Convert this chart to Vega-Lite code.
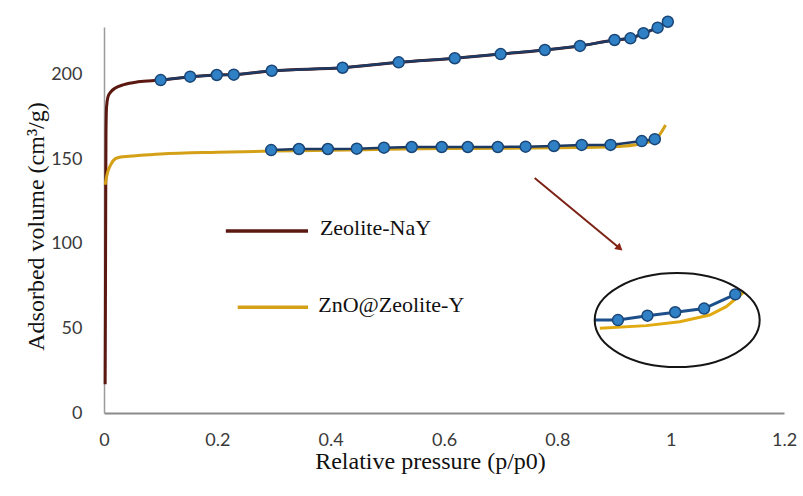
{
  "$schema": "https://vega.github.io/schema/vega-lite/v6.json",
  "width": 680,
  "height": 386,
  "autosize": {"type": "none"},
  "padding": {"left": 104, "top": 27, "right": 19, "bottom": 83},
  "background": "white",
  "config": {"view": {"stroke": null}, "axis": {"grid": false, "ticks": false}},
  "datasets": {
    "curves": [
      {"series": "Zeolite-NaY", "p": 0.002, "v": 17},
      {"series": "Zeolite-NaY", "p": 0.0025, "v": 60},
      {"series": "Zeolite-NaY", "p": 0.003, "v": 120},
      {"series": "Zeolite-NaY", "p": 0.0035, "v": 165},
      {"series": "Zeolite-NaY", "p": 0.0045, "v": 181},
      {"series": "Zeolite-NaY", "p": 0.007, "v": 187},
      {"series": "Zeolite-NaY", "p": 0.012, "v": 190},
      {"series": "Zeolite-NaY", "p": 0.02, "v": 192.3},
      {"series": "Zeolite-NaY", "p": 0.035, "v": 194.3},
      {"series": "Zeolite-NaY", "p": 0.06, "v": 196},
      {"series": "Zeolite-NaY", "p": 0.1, "v": 197},
      {"series": "Zeolite-NaY", "p": 0.152, "v": 199},
      {"series": "Zeolite-NaY", "p": 0.199, "v": 200},
      {"series": "Zeolite-NaY", "p": 0.229, "v": 200.2},
      {"series": "Zeolite-NaY", "p": 0.296, "v": 202.5},
      {"series": "Zeolite-NaY", "p": 0.421, "v": 204.3},
      {"series": "Zeolite-NaY", "p": 0.52, "v": 207.5},
      {"series": "Zeolite-NaY", "p": 0.619, "v": 209.9},
      {"series": "Zeolite-NaY", "p": 0.7, "v": 212.4},
      {"series": "Zeolite-NaY", "p": 0.778, "v": 214.8},
      {"series": "Zeolite-NaY", "p": 0.84, "v": 217.2},
      {"series": "Zeolite-NaY", "p": 0.901, "v": 220.7},
      {"series": "Zeolite-NaY", "p": 0.929, "v": 221.7},
      {"series": "Zeolite-NaY", "p": 0.952, "v": 224.7},
      {"series": "Zeolite-NaY", "p": 0.977, "v": 228.0},
      {"series": "Zeolite-NaY", "p": 0.995, "v": 231.5},
      {"series": "ZnO@Zeolite-Y", "p": 0.002, "v": 135},
      {"series": "ZnO@Zeolite-Y", "p": 0.006, "v": 142},
      {"series": "ZnO@Zeolite-Y", "p": 0.012, "v": 147},
      {"series": "ZnO@Zeolite-Y", "p": 0.02, "v": 150.5},
      {"series": "ZnO@Zeolite-Y", "p": 0.03, "v": 151.5},
      {"series": "ZnO@Zeolite-Y", "p": 0.06, "v": 152.3},
      {"series": "ZnO@Zeolite-Y", "p": 0.1, "v": 153.2},
      {"series": "ZnO@Zeolite-Y", "p": 0.2, "v": 154.3},
      {"series": "ZnO@Zeolite-Y", "p": 0.295, "v": 155},
      {"series": "ZnO@Zeolite-Y", "p": 0.4, "v": 155.4},
      {"series": "ZnO@Zeolite-Y", "p": 0.5, "v": 156},
      {"series": "ZnO@Zeolite-Y", "p": 0.6, "v": 156.5},
      {"series": "ZnO@Zeolite-Y", "p": 0.7, "v": 156.6},
      {"series": "ZnO@Zeolite-Y", "p": 0.8, "v": 157},
      {"series": "ZnO@Zeolite-Y", "p": 0.9, "v": 157.6},
      {"series": "ZnO@Zeolite-Y", "p": 0.95, "v": 159.5},
      {"series": "ZnO@Zeolite-Y", "p": 0.972, "v": 161.5},
      {"series": "ZnO@Zeolite-Y", "p": 0.991, "v": 170.4}
    ],
    "markers": [
      {"series": "Zeolite-NaY", "p": 0.1, "v": 197},
      {"series": "Zeolite-NaY", "p": 0.152, "v": 199},
      {"series": "Zeolite-NaY", "p": 0.199, "v": 200},
      {"series": "Zeolite-NaY", "p": 0.229, "v": 200.2},
      {"series": "Zeolite-NaY", "p": 0.296, "v": 202.5},
      {"series": "Zeolite-NaY", "p": 0.421, "v": 204.3},
      {"series": "Zeolite-NaY", "p": 0.52, "v": 207.5},
      {"series": "Zeolite-NaY", "p": 0.619, "v": 209.9},
      {"series": "Zeolite-NaY", "p": 0.7, "v": 212.4},
      {"series": "Zeolite-NaY", "p": 0.778, "v": 214.8},
      {"series": "Zeolite-NaY", "p": 0.84, "v": 217.2},
      {"series": "Zeolite-NaY", "p": 0.901, "v": 220.7},
      {"series": "Zeolite-NaY", "p": 0.929, "v": 221.7},
      {"series": "Zeolite-NaY", "p": 0.952, "v": 224.7},
      {"series": "Zeolite-NaY", "p": 0.977, "v": 228.0},
      {"series": "Zeolite-NaY", "p": 0.995, "v": 231.5},
      {"series": "ZnO@Zeolite-Y", "p": 0.295, "v": 155.6},
      {"series": "ZnO@Zeolite-Y", "p": 0.344, "v": 156.2},
      {"series": "ZnO@Zeolite-Y", "p": 0.395, "v": 156.2},
      {"series": "ZnO@Zeolite-Y", "p": 0.446, "v": 156.4},
      {"series": "ZnO@Zeolite-Y", "p": 0.494, "v": 157},
      {"series": "ZnO@Zeolite-Y", "p": 0.543, "v": 157.4},
      {"series": "ZnO@Zeolite-Y", "p": 0.596, "v": 157.4},
      {"series": "ZnO@Zeolite-Y", "p": 0.642, "v": 157.4},
      {"series": "ZnO@Zeolite-Y", "p": 0.695, "v": 157.4},
      {"series": "ZnO@Zeolite-Y", "p": 0.744, "v": 157.6},
      {"series": "ZnO@Zeolite-Y", "p": 0.794, "v": 158},
      {"series": "ZnO@Zeolite-Y", "p": 0.843, "v": 158.6},
      {"series": "ZnO@Zeolite-Y", "p": 0.894, "v": 158.6},
      {"series": "ZnO@Zeolite-Y", "p": 0.949, "v": 160.9},
      {"series": "ZnO@Zeolite-Y", "p": 0.972, "v": 162}
    ],
    "inset": [
      {"series": "gold", "p": 0.875, "v": 50.1},
      {"series": "gold", "p": 0.957, "v": 51.7},
      {"series": "gold", "p": 1.016, "v": 54.0},
      {"series": "gold", "p": 1.069, "v": 58.0},
      {"series": "gold", "p": 1.098, "v": 62.9},
      {"series": "gold", "p": 1.13, "v": 71.8},
      {"series": "blue", "p": 0.866, "v": 55.0},
      {"series": "blue", "p": 0.907, "v": 55.0},
      {"series": "blue", "p": 0.959, "v": 57.6},
      {"series": "blue", "p": 1.008, "v": 59.6},
      {"series": "blue", "p": 1.059, "v": 61.8},
      {"series": "blue", "p": 1.114, "v": 70.2}
    ],
    "insetMarkers": [
      {"p": 0.907, "v": 55.0},
      {"p": 0.959, "v": 57.6},
      {"p": 1.008, "v": 59.6},
      {"p": 1.059, "v": 61.8},
      {"p": 1.114, "v": 70.2}
    ],
    "ellipse": [{"p": 1.0115, "v": 55.0}],
    "arrow": [{"p": 0.76, "v": 139, "p2": 0.91, "v2": 97.5}],
    "arrowHead": [{"p": 0.91, "v": 97.5}],
    "legend": [
      {"series": "Zeolite-NaY", "p": 0.215, "p2": 0.36, "v": 107.7, "tp": 0.381, "tv": 105.3},
      {"series": "ZnO@Zeolite-Y", "p": 0.236, "p2": 0.36, "v": 62.5, "tp": 0.378, "tv": 59.9}
    ]
  },
  "encoding": {
    "x": {
      "field": "p",
      "type": "quantitative",
      "scale": {"domain": [0, 1.2], "nice": false, "zero": false},
      "axis": {
        "values": [0, 0.2, 0.4, 0.6, 0.8, 1, 1.2],
        "format": "~g",
        "labelFont": "Lato",
        "labelFontSize": 18,
        "labelColor": "#3a3a3a",
        "labelPadding": 18,
        "labelFlush": false,
        "labelBound": false,
        "labelOverlap": false,
        "domainColor": "#8a8a8a",
        "domainWidth": 2,
        "title": "Relative pressure (p/p0)",
        "titleFont": "Liberation Serif",
        "titleFontSize": 24,
        "titleFontWeight": "normal",
        "titleColor": "#111111",
        "titleX": 326,
        "titleY": 55,
        "titleBaseline": "alphabetic",
        "titleAlign": "center"
      }
    },
    "y": {
      "field": "v",
      "type": "quantitative",
      "scale": {"domain": [0, 228.4], "nice": false, "zero": false},
      "axis": {
        "values": [0, 50, 100, 150, 200],
        "labelFont": "Lato",
        "labelFontSize": 18,
        "labelColor": "#3a3a3a",
        "labelPadding": 22,
        "labelOverlap": false,
        "domainColor": "#9a9a9a",
        "domainWidth": 1.5,
        "title": "Adsorbed volume (cm³/g)",
        "titleFont": "Liberation Serif",
        "titleFontSize": 24,
        "titleFontWeight": "normal",
        "titleColor": "#111111",
        "titleX": -61,
        "titleY": 199,
        "titleAngle": -90,
        "titleBaseline": "alphabetic",
        "titleAlign": "center"
      }
    }
  },
  "layer": [
    {
      "data": {"name": "curves"},
      "mark": {"type": "line", "strokeWidth": 3, "interpolate": "monotone"},
      "encoding": {
        "color": {"field": "series", "type": "nominal", "scale": {"domain": ["Zeolite-NaY", "ZnO@Zeolite-Y"], "range": ["#5a1810", "#d4a017"]}, "legend": null},
        "order": {"field": "p", "type": "quantitative"}
      }
    },
    {
      "data": {"name": "markers"},
      "mark": {"type": "line", "strokeWidth": 2.5, "color": "#1d3a64"},
      "encoding": {
        "detail": {"field": "series", "type": "nominal"},
        "order": {"field": "p", "type": "quantitative"}
      }
    },
    {
      "data": {"name": "markers"},
      "mark": {"type": "point", "shape": "circle", "size": 120, "filled": true, "fill": "#2f80c4", "stroke": "#1a4677", "strokeWidth": 1.5, "opacity": 1}
    },
    {
      "data": {"name": "inset"},
      "mark": {"type": "line", "strokeWidth": 3},
      "encoding": {
        "stroke": {"field": "series", "type": "nominal", "scale": {"domain": ["gold", "blue"], "range": ["#e0aa10", "#1d4f8a"]}, "legend": null},
        "order": {"field": "p", "type": "quantitative"}
      }
    },
    {
      "data": {"name": "insetMarkers"},
      "mark": {"type": "point", "shape": "circle", "size": 120, "filled": true, "fill": "#2f80c4", "stroke": "#1a4677", "strokeWidth": 1.5, "opacity": 1}
    },
    {
      "data": {"name": "ellipse"},
      "mark": {"type": "point", "shape": "M-1,0 C-1,-0.3148 -0.5523,-0.57 0,-0.57 C0.5523,-0.57 1,-0.3148 1,0 C1,0.3148 0.5523,0.57 0,0.57 C-0.5523,0.57 -1,0.3148 -1,0 Z", "size": 27225, "filled": false, "color": "#151515", "strokeWidth": 2, "opacity": 1}
    },
    {
      "data": {"name": "arrow"},
      "mark": {"type": "rule", "color": "#7d2216", "strokeWidth": 2},
      "encoding": {
        "x2": {"field": "p2"},
        "y2": {"field": "v2"}
      }
    },
    {
      "data": {"name": "arrowHead"},
      "mark": {"type": "point", "shape": "triangle-up", "size": 70, "filled": true, "color": "#8a2416", "angle": 130, "opacity": 1}
    },
    {
      "data": {"name": "legend"},
      "mark": {"type": "rule", "strokeWidth": 3.5},
      "encoding": {
        "x2": {"field": "p2"},
        "color": {"field": "series", "type": "nominal", "legend": null}
      }
    },
    {
      "data": {"name": "legend"},
      "mark": {"type": "text", "font": "Liberation Serif", "fontSize": 22, "align": "left", "baseline": "alphabetic", "color": "#111111"},
      "encoding": {
        "x": {"field": "tp", "type": "quantitative"},
        "y": {"field": "tv", "type": "quantitative"},
        "text": {"field": "series"}
      }
    }
  ]
}
